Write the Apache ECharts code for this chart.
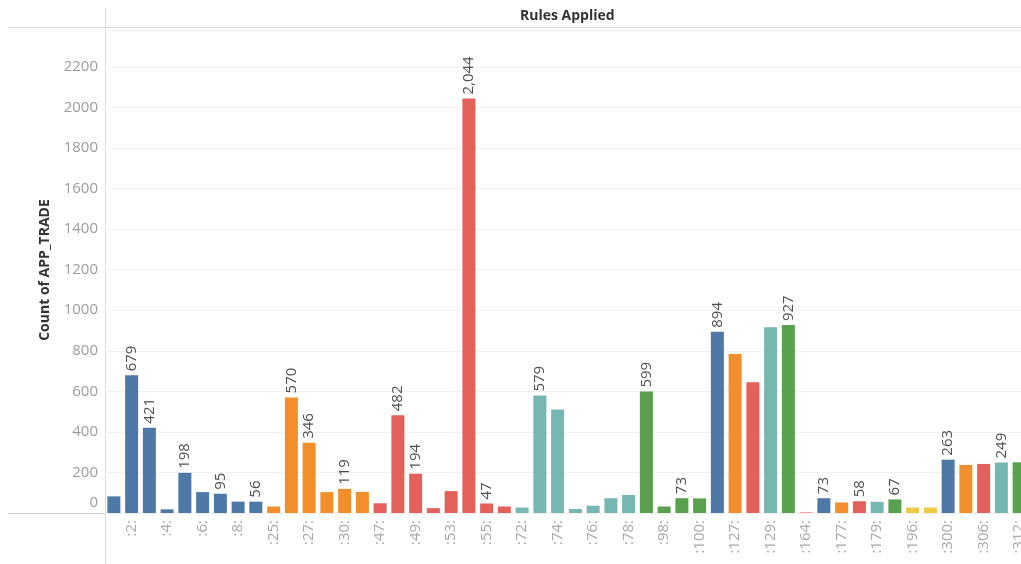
<!DOCTYPE html>
<html>
<head>
<meta charset="utf-8">
<script src="https://cdn.jsdelivr.net/npm/echarts@6/dist/echarts.min.js"></script>
<style>
  html, body { margin: 0; padding: 0; background: #fff; overflow: hidden; }
  /* a bit wider than the window: the last bar is cut off at the edge */
  #chart { width: 1030px; height: 564px; }
</style>
</head>
<body>
<div id="chart"></div>
<script>
// rule ids on the x axis (odd ones are hidden by the label thinning)
const rules = [
  ':1:', ':2:', ':3:', ':4:', ':5:', ':6:', ':7:', ':8:', ':9:', ':25:',
  ':26:', ':27:', ':29:', ':30:', ':46:', ':47:', ':48:', ':49:', ':52:', ':53:',
  ':54:', ':55:', ':56:', ':72:', ':73:', ':74:', ':75:', ':76:', ':77:', ':78:',
  ':79:', ':98:', ':99:', ':100:', ':126:', ':127:', ':128:', ':129:', ':130:', ':164:',
  ':176:', ':177:', ':178:', ':179:', ':195:', ':196:', ':197:', ':300:', ':305:', ':306:',
  ':311:', ':312:'
];
const counts = [
  82, 679, 421, 18, 198, 103, 95, 56, 56, 32,
  570, 346, 103, 119, 104, 48, 482, 194, 24, 108,
  2044, 47, 32, 27, 579, 511, 20, 36, 73, 89,
  599, 32, 73, 72, 894, 784, 645, 916, 927, 5,
  73, 52, 58, 55, 67, 27, 27, 263, 237, 242,
  249, 250
];
// colour group of each bar (index into palette)
const groups = [
  0, 0, 0, 0, 0, 0, 0, 0, 0, 1,
  1, 1, 1, 1, 1, 2, 2, 2, 2, 2,
  2, 2, 2, 3, 3, 3, 3, 3, 3, 3,
  4, 4, 4, 4, 0, 1, 2, 3, 4, 7,
  0, 1, 2, 3, 4, 5, 5, 0, 1, 2,
  3, 4
];
// bars whose mark label is shown
const labelled = [1, 2, 4, 6, 8, 10, 11, 13, 16, 17, 20, 21, 24, 30, 32, 34, 38, 40, 42, 44, 47, 50];

const palette = ['#4e79a7', '#f28e2b', '#e4605b', '#76b7b2', '#59a14f', '#edc948', '#b07aa1', '#ff9da7'];
const font = '"Open Sans", "Liberation Sans", sans-serif';

const chart = echarts.init(document.getElementById('chart'));

const barData = counts.map((v, i) => ({
  value: v,
  itemStyle: { color: palette[groups[i]] },
  label: { show: labelled.indexOf(i) >= 0 }
}));

chart.setOption({
  animation: false,
  backgroundColor: '#fff',
  grid: { left: 105, right: 2, top: 30, bottom: 51 },
  xAxis: {
    type: 'category',
    data: rules,
    axisLine: { show: false },
    axisTick: { show: false },
    axisLabel: {
      rotate: 90,
      margin: 7,
      color: '#a8a8a8',
      fontSize: 15,
      fontFamily: font,
      interval: function (index) { return index % 2 === 1; }
    }
  },
  yAxis: {
    type: 'value',
    min: 0,
    max: 2382,
    interval: 200,
    axisLine: { show: false },
    axisTick: { show: false },
    splitLine: { lineStyle: { color: '#f1f1f1' } },
    axisLabel: {
      margin: 7,
      color: '#9c9c9c',
      fontSize: 15,
      fontFamily: font,
      showMaxLabel: false,
      formatter: function (v) {
        if (v % 200 !== 0) return '';
        return v === 0 ? '{z|0}' : String(v);
      },
      rich: {
        z: { color: '#9c9c9c', fontSize: 15, fontFamily: font, padding: [0, 0, 20, 0] }
      }
    }
  },
  series: [{
    type: 'bar',
    data: barData,
    barWidth: 13,
    label: {
      position: 'top',
      rotate: 90,
      align: 'left',
      verticalAlign: 'middle',
      distance: 4,
      color: '#505050',
      fontSize: 15,
      fontFamily: font,
      formatter: function (p) { return p.value.toLocaleString('en-US'); }
    }
  }],
  graphic: [
    { type: 'line', shape: { x1: 8, y1: 27.5, x2: 1030, y2: 27.5 }, style: { stroke: '#dcdcdc', lineWidth: 1 } },
    { type: 'line', shape: { x1: 105.5, y1: 8, x2: 105.5, y2: 564 }, style: { stroke: '#dcdcdc', lineWidth: 1 } },
    { type: 'line', shape: { x1: 8, y1: 513.5, x2: 1030, y2: 513.5 }, style: { stroke: '#c8c8c8', lineWidth: 1 } },
    {
      type: 'text', left: 520, top: 9,
      style: { text: 'Rules Applied', fill: '#333', font: 'bold 14px ' + font }
    },
    {
      type: 'text', x: 45, y: 270, rotation: Math.PI / 2,
      style: { text: 'Count of APP_TRADE', fill: '#333', font: 'bold 14px ' + font, align: 'center', verticalAlign: 'middle' }
    }
  ]
});
</script>
</body>
</html>
